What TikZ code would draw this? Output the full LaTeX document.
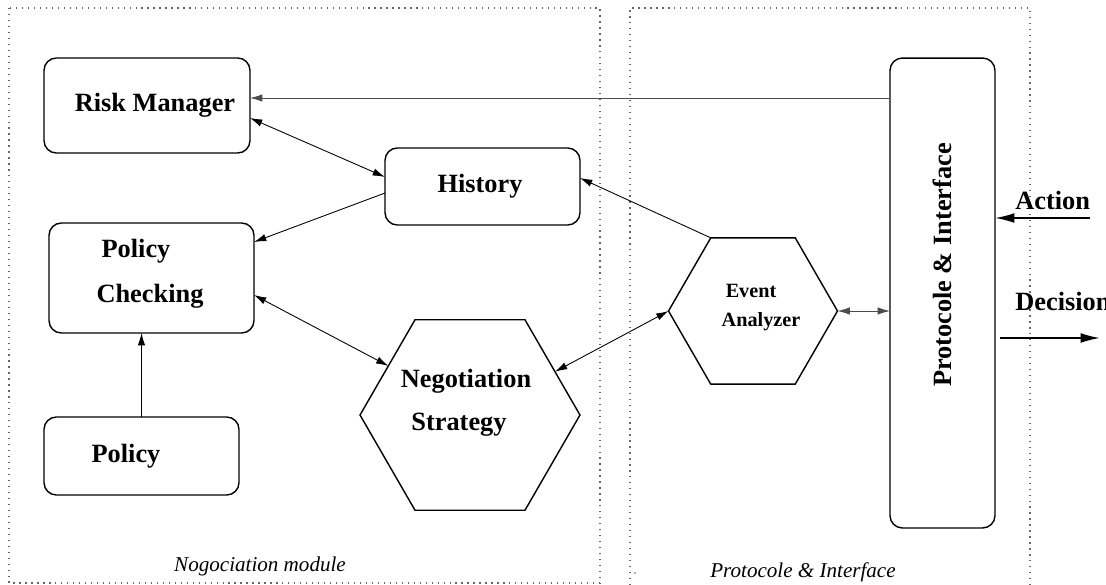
\documentclass[tikz,border=0pt]{standalone}
\usepackage{fontspec}
\setmainfont{Liberation Serif}
\usetikzlibrary{arrows.meta,shapes.geometric}
\begin{document}
\begin{tikzpicture}[x=0.02cm,y=-0.02cm,
  box/.style={draw,line width=0.8pt,rounded corners=7pt,inner sep=0pt,outer sep=0pt},
  hexa/.style={draw,line width=0.8pt,regular polygon,regular polygon sides=6,inner sep=0pt,outer sep=0pt},
  lab/.style={font=\fontsize{15}{18}\selectfont\bfseries,inner sep=0pt},
  slab/.style={font=\fontsize{11.5}{14}\selectfont\bfseries,inner sep=0pt},
  ilab/.style={font=\fontsize{12}{14}\selectfont\itshape,inner sep=0pt},
  arr/.style={line width=0.5pt,-{Latex[length=7pt,width=4.2pt]}},
  arrb/.style={line width=0.5pt,{Latex[length=7pt,width=4.2pt]}-{Latex[length=7pt,width=4.2pt]}},
  bigarr/.style={line width=1pt,-{Latex[length=11pt,width=5.6pt]}},
  frame/.style={gray!80!black,line width=0.7pt,dash pattern=on 0.7pt off 2.7pt}]
\useasboundingbox (0,0) rectangle (1106,585);
% module frames
\draw[frame] (9,8) rectangle (600,583);
\draw[frame] (630,585) -- (630,8) -- (1030,8) -- (1030,585);
\fill[gray!80!black] (635,573) circle (0.5pt);
% boxes
\node[box,minimum width=4.12cm,minimum height=1.9cm] (rm) at (147,105.5) {};
\node[box,minimum width=3.9cm,minimum height=1.54cm] (hist) at (482.5,186.5) {};
\node[box,minimum width=4.1cm,minimum height=2.2cm] (pc) at (151.5,278) {};
\node[box,minimum width=3.9cm,minimum height=1.56cm] (pol) at (141.5,456) {};
\node[box,minimum width=2.1cm,minimum height=9.4cm] (pi) at (942.5,293) {};
\node[hexa,minimum size=4.4cm] (neg) at (470,415) {};
\node[hexa,minimum size=3.38cm] (ev) at (753,311) {};
% texts
\node[lab] (trm) at (155,105) {Risk Manager};
\node[lab] (thist) at (480,186) {History};
\node[lab] (tpc1) at (136,251) {Policy};
\node[lab] (tpc2) at (150,296) {Checking};
\node[lab] (tpol) at (126,456) {Policy};
\node[lab] (tneg1) at (466,381) {Negotiation};
\node[lab] (tneg2) at (459,425) {Strategy};
\node[slab] (tev1) at (751,291) {Event};
\node[slab] (tev2) at (761,322) {Analyzer};
\node[lab,rotate=90] (tpi) at (942,265) {Protocole \& Interface};
\node[lab,anchor=west] (tact) at (1015,200) {Action};
\node[lab,anchor=west] (tdec) at (1015,301) {Decision};
\node[ilab] (tnm) at (260,566) {Nogociation module};
\node[ilab] (tpim) at (803,572) {Protocole \& Interface};
% connectors
\draw[arr,gray!60!black] (pi.west |- 0,98) -- (rm.east |- 0,98);
\draw[arrb] (rm.east |- 0,118) -- (hist.west |- 0,177);
\draw[arr] (hist.west |- 0,193) -- (pc.east |- 0,242);
\draw[arrb] (pc.east |- 0,295) -- (neg.149);
\draw[arr] (pol.north) -- (pol.north |- pc.south);
\draw[arr] (ev.120) -- (hist.east |- 0,178);
\draw[arrb] (ev.180) -- (neg.27);
\draw[arrb,gray!60!black] (ev.0) -- (pi.west |- ev.0);
\coordinate (actstart) at (1090,218);
\draw[bigarr] (actstart) -- (pi.east |- actstart);
\coordinate (decstart) at (1000,338);
\coordinate (decend) at (1100,338);
\draw[bigarr] (decstart) -- (decend);
\end{tikzpicture}
\end{document}
